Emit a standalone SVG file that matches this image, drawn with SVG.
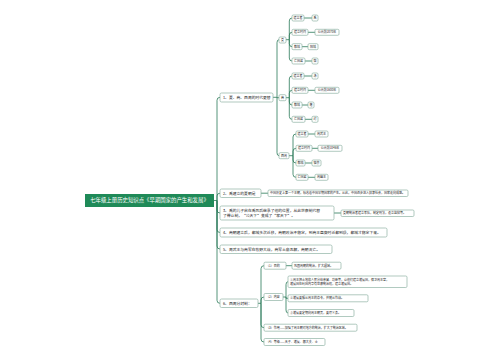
<svg xmlns="http://www.w3.org/2000/svg" width="500" height="360" viewBox="0 0 500 360">
<style>
text{font-family:"Noto Sans CJK SC","Noto Sans",sans-serif;fill:#222;}
.n rect{fill:#fff;stroke:#8fb3a5;stroke-width:0.7;}
.t1{font-size:3.8px;}
.t2{font-size:3px;}
.c path{fill:none;stroke:#2a7a58;stroke-width:0.8;}
</style>
<rect width="500" height="360" fill="#fff"/>
<g class="c">
<path d="M214,200.5 H217"/>
<path d="M217,200.5 V100.3 Q217,97.3 220,97.3"/>
<path d="M217,200.5 V196 Q217,193.2 220,193.2"/>
<path d="M217,200.5 V210 Q217,213 220,213"/>
<path d="M217,200.5 V229.5 Q217,232.5 220,232.5"/>
<path d="M217,200.5 V246 Q217,249 220,249"/>
<path d="M217,200.5 V300.3 Q217,303.3 220,303.3"/>
<path d="M273,97.3 H277"/>
<path d="M277,97.3 V42.7 Q277,39.7 279,39.7"/>
<path d="M277,97.7 H279"/>
<path d="M277,97.3 V152.7 Q277,155.7 279,155.7"/>
<path d="M286,39.7 H289.3"/>
<path d="M289.3,39.7 V21 Q289.3,18 292,18"/>
<path d="M289.3,39.7 V35.3 Q289.3,32.3 292,32.3"/>
<path d="M289.3,39.7 V43.7 Q289.3,46.7 292,46.7"/>
<path d="M289.3,39.7 V58 Q289.3,61 292,61"/>
<path d="M286,97.7 H289.3"/>
<path d="M289.3,97.7 V79 Q289.3,76 292,76"/>
<path d="M289.3,97.7 V93.3 Q289.3,90.3 292,90.3"/>
<path d="M289.3,97.7 V102 Q289.3,105 292,105"/>
<path d="M289.3,97.7 V116.3 Q289.3,119.3 292,119.3"/>
<path d="M289,155.7 H293"/>
<path d="M293,155.7 V137 Q293,134 296,134"/>
<path d="M293,155.7 V151.3 Q293,148.3 296,148.3"/>
<path d="M293,155.7 V160 Q293,163 296,163"/>
<path d="M293,155.7 V174.3 Q293,177.3 296,177.3"/>
<path d="M304,18 H312"/><path d="M308,32.3 H315"/><path d="M302,46.7 H308"/><path d="M305,61 H312"/>
<path d="M304,76 H312"/><path d="M308,90.3 H315"/><path d="M302,105 H308"/><path d="M305,119.3 H312"/>
<path d="M308,134 H315"/><path d="M312,148.3 H318"/><path d="M305,163 H312"/><path d="M308,177.3 H315"/>
<path d="M261,193.2 H268"/>
<path d="M334,213 H341"/>
<path d="M258,303.3 H261"/>
<path d="M261,303.3 V268.7 Q261,265.7 264,265.7"/>
<path d="M261,303.3 V300 Q261,297 264,297"/>
<path d="M261,303.3 V324.7 Q261,327.7 264,327.7"/>
<path d="M261,303.3 V339 Q261,342 264,342"/>
<path d="M286,265.7 H292"/>
<path d="M283,297 H286"/>
<path d="M286,297 V284.7 Q286,281.7 288,281.7"/>
<path d="M286,297 V298.3 H288"/>
<path d="M286,297 V310 Q286,313 288,313"/>
</g>
<g id="root"><rect x="85" y="194" width="129" height="13" fill="#1f8a58"/><text x="149.5" y="202.4" font-size="5.4" text-anchor="middle" style="fill:#fff">七年级上册历史知识点《早期国家的产生和发展》</text></g>
<g id="n1" class="n"><rect x="220" y="93" width="53" height="9" rx="1.5"/><text class="t1" x="223" y="98.8">1、夏、商、西周的时代更替</text></g>
<g id="n2" class="n"><rect x="220" y="189" width="41" height="8.5" rx="1.5"/><text class="t1" x="223" y="194.6">2、禹建立的夏朝是</text></g>
<g id="n3" class="n"><rect x="220" y="206" width="114" height="14" rx="1.5"/><text class="t1" x="223" y="211.5">3、禹的儿子启在禹死后继承了他的位置，从此世袭制代替</text><text class="t1" x="223" y="217.3">了禅让制，“公天下”变成了“家天下”。</text></g>
<g id="n4" class="n"><rect x="220" y="228" width="167" height="9" rx="1.5"/><text class="t1" x="223" y="233.8">4、商朝建立后，都城多次迁移，商朝政治不稳定，到商王盘庚时迁都到殷，都城才稳定下来。</text></g>
<g id="n5" class="n"><rect x="220" y="245" width="112" height="8.5" rx="1.5"/><text class="t1" x="223" y="250.5">5、周武王与商军在牧野大战，商军土崩瓦解，商朝灭亡。</text></g>
<g id="n6" class="n"><rect x="220" y="299" width="38" height="8.5" rx="1.5"/><text class="t1" x="223" y="304.6">6、西周分封制：</text></g>
<g id="xia" class="n"><rect x="279" y="37" width="7" height="6" rx="1.2"/><text class="t2" x="282.5" y="40.8" text-anchor="middle">夏</text></g>
<g id="shang" class="n"><rect x="279" y="94.7" width="7" height="6" rx="1.2"/><text class="t2" x="282.5" y="98.8" text-anchor="middle">商</text></g>
<g id="xizhou" class="n"><rect x="279" y="152.7" width="10" height="6" rx="1.2"/><text class="t2" x="284" y="156.8" text-anchor="middle">西周</text></g>
<g id="x1" class="n"><rect x="292" y="15" width="12" height="6" rx="1.2"/><text class="t2" x="298" y="19.1" text-anchor="middle">建立者</text></g>
<g id="x1v" class="n"><rect x="312" y="15" width="6" height="6" rx="1.2"/><text class="t2" x="315" y="19.1" text-anchor="middle">禹</text></g>
<g id="x2" class="n"><rect x="292" y="29.3" width="16" height="6" rx="1.2"/><text class="t2" x="300" y="33.4" text-anchor="middle">建立时间</text></g>
<g id="x2v" class="n"><rect x="315" y="29.3" width="24" height="6" rx="1.2"/><text class="t2" x="327" y="33.4" text-anchor="middle">公元前2070年</text></g>
<g id="x3" class="n"><rect x="292" y="43.7" width="10" height="6" rx="1.2"/><text class="t2" x="297" y="47.8" text-anchor="middle">都城</text></g>
<g id="x3v" class="n"><rect x="308" y="43.7" width="10" height="6" rx="1.2"/><text class="t2" x="313" y="47.8" text-anchor="middle">阳城</text></g>
<g id="x4" class="n"><rect x="292" y="58" width="13" height="6" rx="1.2"/><text class="t2" x="298.5" y="62.1" text-anchor="middle">亡国君</text></g>
<g id="x4v" class="n"><rect x="312" y="58" width="6" height="6" rx="1.2"/><text class="t2" x="315" y="62.1" text-anchor="middle">桀</text></g>
<g id="s1" class="n"><rect x="292" y="73" width="12" height="6" rx="1.2"/><text class="t2" x="298" y="77.1" text-anchor="middle">建立者</text></g>
<g id="s1v" class="n"><rect x="312" y="73" width="6" height="6" rx="1.2"/><text class="t2" x="315" y="77.1" text-anchor="middle">汤</text></g>
<g id="s2" class="n"><rect x="292" y="87.3" width="16" height="6" rx="1.2"/><text class="t2" x="300" y="91.4" text-anchor="middle">建立时间</text></g>
<g id="s2v" class="n"><rect x="315" y="87.3" width="24" height="6" rx="1.2"/><text class="t2" x="327" y="91.4" text-anchor="middle">公元前1600年</text></g>
<g id="s3" class="n"><rect x="292" y="102" width="10" height="6" rx="1.2"/><text class="t2" x="297" y="106.1" text-anchor="middle">都城</text></g>
<g id="s3v" class="n"><rect x="308" y="102" width="6" height="6" rx="1.2"/><text class="t2" x="311" y="106.1" text-anchor="middle">亳</text></g>
<g id="s4" class="n"><rect x="292" y="116.3" width="13" height="6" rx="1.2"/><text class="t2" x="298.5" y="120.4" text-anchor="middle">亡国君</text></g>
<g id="s4v" class="n"><rect x="312" y="116.3" width="6" height="6" rx="1.2"/><text class="t2" x="315" y="120.4" text-anchor="middle">纣</text></g>
<g id="z1" class="n"><rect x="296" y="131" width="12" height="6" rx="1.2"/><text class="t2" x="302" y="135.1" text-anchor="middle">建立者</text></g>
<g id="z1v" class="n"><rect x="315" y="131" width="13" height="6" rx="1.2"/><text class="t2" x="321.5" y="135.1" text-anchor="middle">周武王</text></g>
<g id="z2" class="n"><rect x="296" y="145.3" width="16" height="6" rx="1.2"/><text class="t2" x="304" y="149.4" text-anchor="middle">建立时间</text></g>
<g id="z2v" class="n"><rect x="318" y="145.3" width="24" height="6" rx="1.2"/><text class="t2" x="330" y="149.4" text-anchor="middle">公元前1046年</text></g>
<g id="z3" class="n"><rect x="296" y="160" width="9" height="6" rx="1.2"/><text class="t2" x="300.5" y="164.1" text-anchor="middle">都城</text></g>
<g id="z3v" class="n"><rect x="312" y="160" width="9" height="6" rx="1.2"/><text class="t2" x="316.5" y="164.1" text-anchor="middle">镐京</text></g>
<g id="z4" class="n"><rect x="296" y="174.3" width="12" height="6" rx="1.2"/><text class="t2" x="302" y="178.4" text-anchor="middle">亡国君</text></g>
<g id="z4v" class="n"><rect x="315" y="174.3" width="13" height="6" rx="1.2"/><text class="t2" x="321.5" y="178.4" text-anchor="middle">周幽王</text></g>
<g id="n2a" class="n"><rect x="268" y="190" width="140" height="6.5" rx="1.2"/><text class="t2" x="270" y="194.3">中国历史上第一个王朝，标志着中国早期国家的产生。从此，中国逐步进入奴隶社会，国家走向成熟。</text></g>
<g id="n3a" class="n"><rect x="341" y="210" width="73" height="6.5" rx="1.2"/><text class="t2" x="343" y="214.3">夏朝统治者建立军队，制定刑法，设立监狱等。</text></g>
<g id="f1" class="n"><rect x="264" y="262.2" width="22" height="7" rx="1.2"/><text class="t2" x="266" y="266.8">（1）目的</text></g>
<g id="f1a" class="n"><rect x="292" y="262.2" width="49" height="7" rx="1.2"/><text class="t2" x="294" y="266.8">巩固周朝的统治，扩大疆域。</text></g>
<g id="f2" class="n"><rect x="264" y="293.5" width="19" height="7" rx="1.2"/><text class="t2" x="266" y="298.1">（2）内容</text></g>
<g id="f2a" class="n"><rect x="288" y="276" width="119" height="11.5" rx="1.2"/><text class="t2" x="290" y="280.6">①周王把土地和人民分给亲属、功臣等，让他们建立诸侯国，保卫周王室，</text><text class="t2" x="290" y="285">诸侯国在封国内享有世袭统治权，建立诸侯国。</text></g>
<g id="f2b" class="n"><rect x="288" y="294.8" width="80" height="7" rx="1.2"/><text class="t2" x="290" y="299.4">②诸侯要服从周王的命令，并随从作战。</text></g>
<g id="f2c" class="n"><rect x="288" y="309.5" width="66" height="7" rx="1.2"/><text class="t2" x="290" y="314.1">③诸侯要定期向周王朝贡，要尽义务。</text></g>
<g id="f3" class="n"><rect x="264" y="324.2" width="93" height="7" rx="1.2"/><text class="t2" x="266" y="328.8">（3）作用——加强了周王朝对地方的统治，扩大了统治区域。</text></g>
<g id="f4" class="n"><rect x="264" y="338.5" width="61" height="7" rx="1.2"/><text class="t2" x="266" y="343.1">（4）等级——天子、诸侯、卿大夫、士</text></g>
</svg>
